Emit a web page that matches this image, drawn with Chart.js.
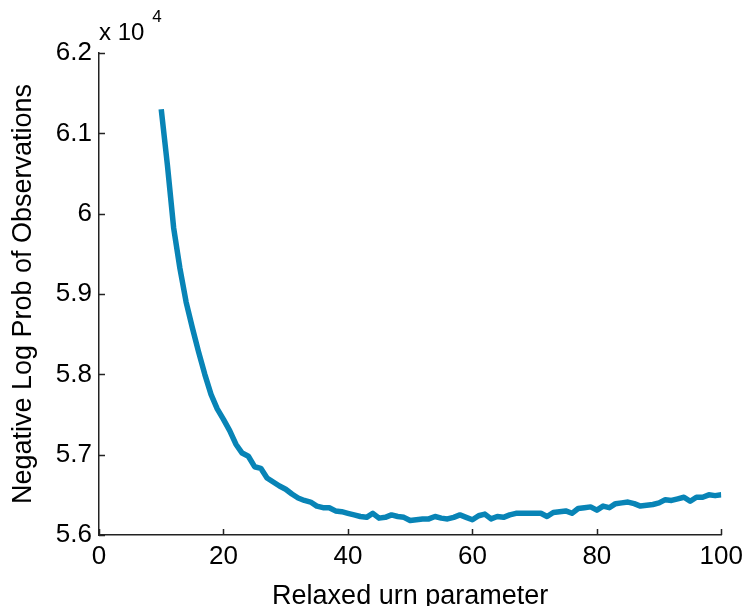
<!DOCTYPE html>
<html>
<head>
<meta charset="utf-8">
<script src="https://cdn.jsdelivr.net/npm/chart.js@4/dist/chart.umd.min.js"></script>
<style>
  html, body { margin: 0; padding: 0; background: #fff; overflow: hidden; }
  canvas { display: block; }
</style>
</head>
<body>
<canvas id="myChart" width="749" height="625"></canvas>
<script>
// urn parameter values (x) and negative log prob (y, raw units; axis shows x 10^4)
let urnParam = [];
for (let i = 10; i <= 100; i++) urnParam.push(i);

let negLogProb = [
  61300, 60600, 59820, 59320, 58900, 58580, 58280, 58000, 57750, 57570,
  57440, 57300, 57130, 57020, 56980, 56850, 56830, 56710, 56660, 56610,
  56570, 56510, 56460, 56430, 56410, 56360, 56340, 56340, 56300, 56290,
  56270, 56250, 56230, 56220, 56270, 56210, 56220, 56250, 56230, 56220,
  56180, 56190, 56200, 56200, 56230, 56210, 56200, 56220, 56250, 56220,
  56190, 56240, 56260, 56200, 56230, 56220, 56250, 56270, 56270, 56270,
  56270, 56270, 56230, 56280, 56290, 56300, 56270, 56330, 56340, 56350,
  56310, 56360, 56340, 56390, 56400, 56410, 56390, 56360, 56370, 56380,
  56400, 56440, 56430, 56450, 56470, 56420, 56470, 56470, 56500, 56490,
  56500
];

let xTicks = [0, 20, 40, 60, 80, 100];
let yTicks = [56000, 57000, 58000, 59000, 60000, 61000, 62000];
let yMultiplierText = 'x 10';
let yMultiplierExp = '4';

let points = urnParam.map((x, i) => ({ x: x, y: negLogProb[i] }));

// ticks pointing into the plot, plus the "x 10^4" label above the y axis
const insideTicks = {
  id: 'insideTicks',
  afterDraw(chart) {
    const ctx = chart.ctx;
    const xs = chart.scales.x, ys = chart.scales.y;
    const area = chart.chartArea;
    ctx.save();
    ctx.strokeStyle = '#222';
    ctx.lineWidth = 1.5;
    ctx.beginPath();
    xTicks.forEach(v => {
      const px = Math.round(xs.getPixelForValue(v)) + 0.5;
      ctx.moveTo(px, area.bottom);
      ctx.lineTo(px, area.bottom - 6);
    });
    yTicks.forEach(v => {
      const py = Math.round(ys.getPixelForValue(v)) + 0.5;
      ctx.moveTo(area.left, py);
      ctx.lineTo(area.left + 6, py);
    });
    ctx.stroke();

    ctx.fillStyle = '#000';
    ctx.textBaseline = 'alphabetic';
    ctx.textAlign = 'left';
    ctx.font = '24px "Liberation Sans", Arial, sans-serif';
    ctx.fillText(yMultiplierText, area.left, 40);
    const w = ctx.measureText(yMultiplierText).width;
    ctx.font = '17px "Liberation Sans", Arial, sans-serif';
    ctx.fillText(yMultiplierExp, area.left + w + 8, 22);
    ctx.restore();
  }
};

let myChart = document.getElementById('myChart').getContext('2d');
let chart = new Chart(myChart, {
  type: 'line',
  data: {
    datasets: [{
      data: points,
      borderColor: '#0884b6',
      borderWidth: 5.5,
      pointRadius: 0,
      tension: 0,
      fill: false,
      borderCapStyle: 'butt',
      borderJoinStyle: 'round'
    }]
  },
  options: {
    responsive: false,
    animation: false,
    events: [],
    layout: { padding: { left: 0, top: 53, right: 26, bottom: 0 } },
    plugins: {
      legend: { display: false },
      tooltip: { enabled: false }
    },
    scales: {
      x: {
        type: 'linear',
        min: 0,
        max: 100,
        afterBuildTicks: s => { s.ticks = xTicks.map(v => ({ value: v })); },
        afterFit: s => { s.height = 90; },
        grid: { drawOnChartArea: false, drawTicks: false },
        border: { display: true, color: '#222', width: 1.5 },
        ticks: {
          padding: 6,
          color: '#000',
          font: { family: '"Liberation Sans", Arial, sans-serif', size: 26 },
          maxRotation: 0
        },
        title: {
          display: true,
          text: 'Relaxed urn parameter',
          color: '#000',
          font: { family: '"Liberation Sans", Arial, sans-serif', size: 27 },
          padding: { top: 0, bottom: 12 }
        }
      },
      y: {
        min: 56000,
        max: 62000,
        afterBuildTicks: s => { s.ticks = yTicks.map(v => ({ value: v })); },
        afterFit: s => { s.width = 99; },
        grid: { drawOnChartArea: false, drawTicks: false },
        border: { display: true, color: '#222', width: 1.5 },
        ticks: {
          padding: 7,
          color: '#000',
          font: { family: '"Liberation Sans", Arial, sans-serif', size: 26 },
          callback: v => String(parseFloat((v / 10000).toFixed(1)))
        },
        title: {
          display: true,
          text: 'Negative Log Prob of Observations',
          color: '#000',
          font: { family: '"Liberation Sans", Arial, sans-serif', size: 27 },
          padding: { top: 7, bottom: 0 }
        }
      }
    }
  },
  plugins: [insideTicks]
});
</script>
</body>
</html>
